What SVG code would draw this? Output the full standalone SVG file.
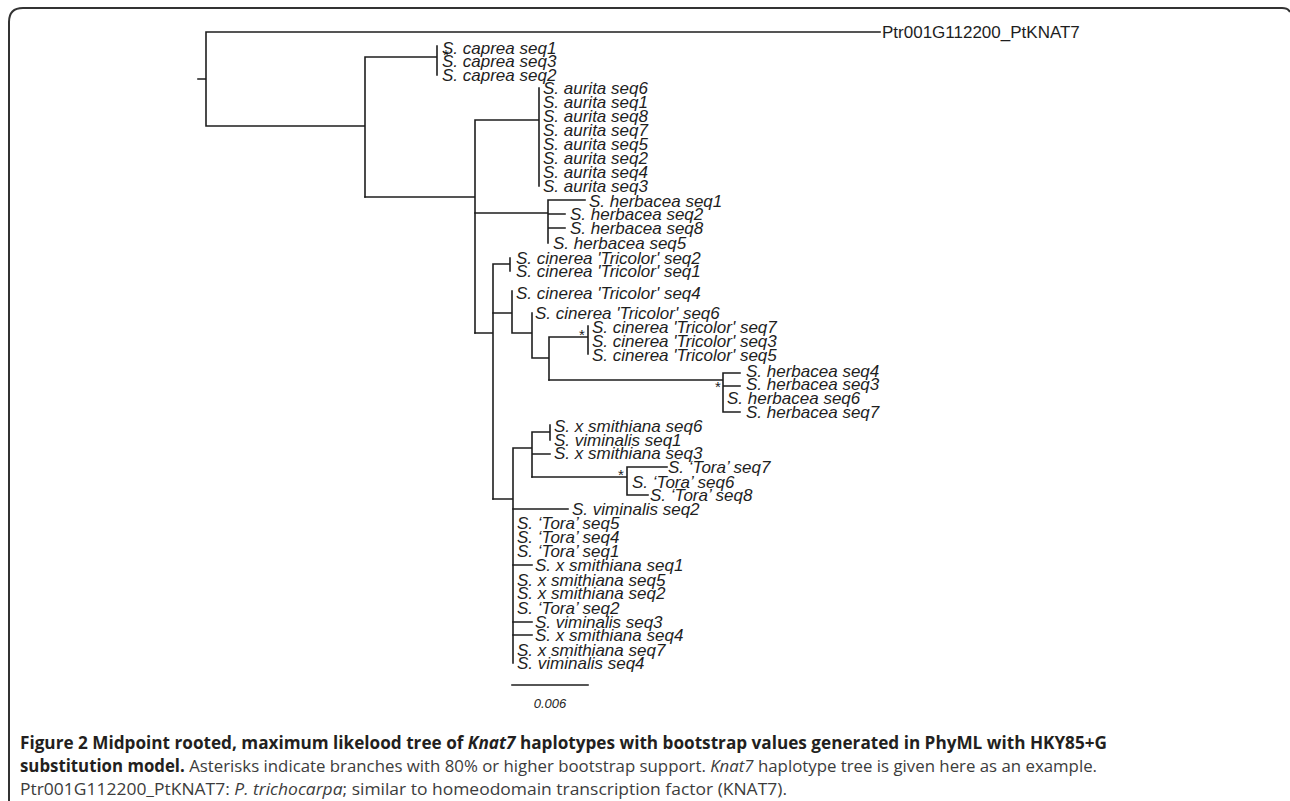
<svg xmlns="http://www.w3.org/2000/svg" width="1290" height="801" viewBox="0 0 1290 801">
<style>
.frame{fill:none;stroke:#333;stroke-width:2}
.br{fill:none;stroke:#1e1e1e;stroke-width:1.6;stroke-linecap:square}
.lb{font-family:"Liberation Sans",Arial,sans-serif;font-style:italic;font-size:17px;fill:#1e1e1e}
.lbn{font-family:"Liberation Sans",Arial,sans-serif;font-size:17px;fill:#1e1e1e}
.ast{font-family:"Liberation Sans",Arial,sans-serif;font-size:15px;fill:#1e1e1e;text-anchor:middle}
.sc{font-family:"Liberation Sans",Arial,sans-serif;font-style:italic;font-size:13px;fill:#1e1e1e;text-anchor:middle}
.cap{font-family:"Open Sans","Noto Sans",sans-serif;font-size:17px}
.b{font-weight:bold;fill:#231f20}
.r{fill:#3c3c3c}
.i{font-style:italic}
</style>
<path class="frame" d="M9 801 V22 Q9 8 23 8 H1282 Q1288 8 1290 12"/>
<g id="connectors">
<path class="br" d="M198 79 H206 M206 32 V126 M206 32 H880 M206 126 H365 M365 57 V197 M365 57 H437 M437 46 V75"/>
<path class="br" d="M365 197 H475 M475 120 V333 M475 120 H539 M539 88 V186"/>
<path class="br" d="M475 213 H548 M548 200 V243 M548 200 H585 M548 214 H565 M548 228 H565"/>
<path class="br" d="M475 333 H493 M493 264 V499 M493 264 H510 M510 258 V271"/>
<path class="br" d="M493 313 H512 M512 291 V333 M512 333 H532 M532 313 V358 M532 358 H549 M549 337 V380 M549 337 H588 M588 326 V354"/>
<path class="br" d="M549 380 H723 M723 373 V412 M723 373 H740 M723 386 H740 M723 412 H740"/>
<path class="br" d="M493 499 H513 M513 448 V663 M513 448 H532 M532 432 V477 M532 432 H550 M550 425 V440 M532 454 H550"/>
<path class="br" d="M532 477 H627 M627 467 V495 M627 467 H667 M627 495 H648 M513 509 H568 M513 565 H532 M513 622 H532 M513 635 H532"/>
<path class="br" d="M512 685 H588"/>
</g>
<g id="n-ptr"><text class="lbn" x="882" y="38">Ptr001G112200_PtKNAT7</text></g>
<g id="n-caprea">
<text class="lb" x="442" y="54">S. caprea seq1</text>
<text class="lb" x="442" y="67">S. caprea seq3</text>
<text class="lb" x="442" y="81">S. caprea seq2</text>
</g>
<g id="n-aurita">
<text class="lb" x="543" y="94">S. aurita seq6</text>
<text class="lb" x="543" y="108">S. aurita seq1</text>
<text class="lb" x="543" y="122">S. aurita seq8</text>
<text class="lb" x="543" y="136">S. aurita seq7</text>
<text class="lb" x="543" y="150">S. aurita seq5</text>
<text class="lb" x="543" y="164">S. aurita seq2</text>
<text class="lb" x="543" y="178">S. aurita seq4</text>
<text class="lb" x="543" y="192">S. aurita seq3</text>
</g>
<g id="n-herbacea1">
<text class="lb" x="589" y="207">S. herbacea seq1</text>
<text class="lb" x="570" y="220">S. herbacea seq2</text>
<text class="lb" x="570" y="234">S. herbacea seq8</text>
<text class="lb" x="553" y="249">S. herbacea seq5</text>
</g>
<g id="n-cinerea1">
<text class="lb" x="516" y="264">S. cinerea 'Tricolor' seq2</text>
<text class="lb" x="516" y="277">S. cinerea 'Tricolor' seq1</text>
<text class="lb" x="516" y="299">S. cinerea 'Tricolor' seq4</text>
<text class="lb" x="535" y="319">S. cinerea 'Tricolor' seq6</text>
</g>
<g id="n-cinerea2">
<text class="lb" x="592" y="333">S. cinerea 'Tricolor' seq7</text>
<text class="lb" x="592" y="347">S. cinerea 'Tricolor' seq3</text>
<text class="lb" x="592" y="361">S. cinerea 'Tricolor' seq5</text>
</g>
<g id="n-herbacea2">
<text class="lb" x="746" y="377">S. herbacea seq4</text>
<text class="lb" x="746" y="390">S. herbacea seq3</text>
<text class="lb" x="727" y="404">S. herbacea seq6</text>
<text class="lb" x="746" y="418">S. herbacea seq7</text>
</g>
<g id="n-smithiana1">
<text class="lb" x="554" y="432">S. x smithiana seq6</text>
<text class="lb" x="554" y="446">S. viminalis seq1</text>
<text class="lb" x="554" y="459">S. x smithiana seq3</text>
</g>
<g id="n-tora1">
<text class="lb" x="668" y="473">S. ‘Tora’ seq7</text>
<text class="lb" x="632" y="488">S. ‘Tora’ seq6</text>
<text class="lb" x="650" y="501">S. ‘Tora’ seq8</text>
</g>
<g id="n-mixed">
<text class="lb" x="572" y="515">S. viminalis seq2</text>
<text class="lb" x="517" y="529">S. ‘Tora’ seq5</text>
<text class="lb" x="517" y="543">S. ‘Tora’ seq4</text>
<text class="lb" x="517" y="557">S. ‘Tora’ seq1</text>
<text class="lb" x="535" y="571">S. x smithiana seq1</text>
<text class="lb" x="517" y="586">S. x smithiana seq5</text>
<text class="lb" x="517" y="599">S. x smithiana seq2</text>
<text class="lb" x="517" y="614">S. ‘Tora’ seq2</text>
<text class="lb" x="535" y="628">S. viminalis seq3</text>
<text class="lb" x="535" y="641">S. x smithiana seq4</text>
<text class="lb" x="517" y="656">S. x smithiana seq7</text>
<text class="lb" x="517" y="669">S. viminalis seq4</text>
</g>
<g id="asterisks">
<text class="ast" x="446" y="60">*</text>
<text class="ast" x="582" y="340">*</text>
<text class="ast" x="718" y="392">*</text>
<text class="ast" x="621" y="480">*</text>
</g>
<g id="scale"><text class="sc" x="550" y="708">0.006</text></g>
<g id="caption" class="cap">
<text x="20" y="749" textLength="1087" lengthAdjust="spacingAndGlyphs"><tspan class="b">Figure 2 Midpoint rooted, maximum likelood tree of </tspan><tspan class="b i">Knat7</tspan><tspan class="b"> haplotypes with bootstrap values generated in PhyML with HKY85+G</tspan></text>
<text x="20" y="772" textLength="1077" lengthAdjust="spacingAndGlyphs"><tspan class="b">substitution model.</tspan><tspan class="r"> Asterisks indicate branches with 80% or higher bootstrap support. </tspan><tspan class="r i">Knat7</tspan><tspan class="r"> haplotype tree is given here as an example.</tspan></text>
<text x="20" y="795" textLength="767" lengthAdjust="spacingAndGlyphs"><tspan class="r">Ptr001G112200_PtKNAT7: </tspan><tspan class="r i">P. trichocarpa</tspan><tspan class="r">; similar to homeodomain transcription factor (KNAT7).</tspan></text>
</g>
</svg>
